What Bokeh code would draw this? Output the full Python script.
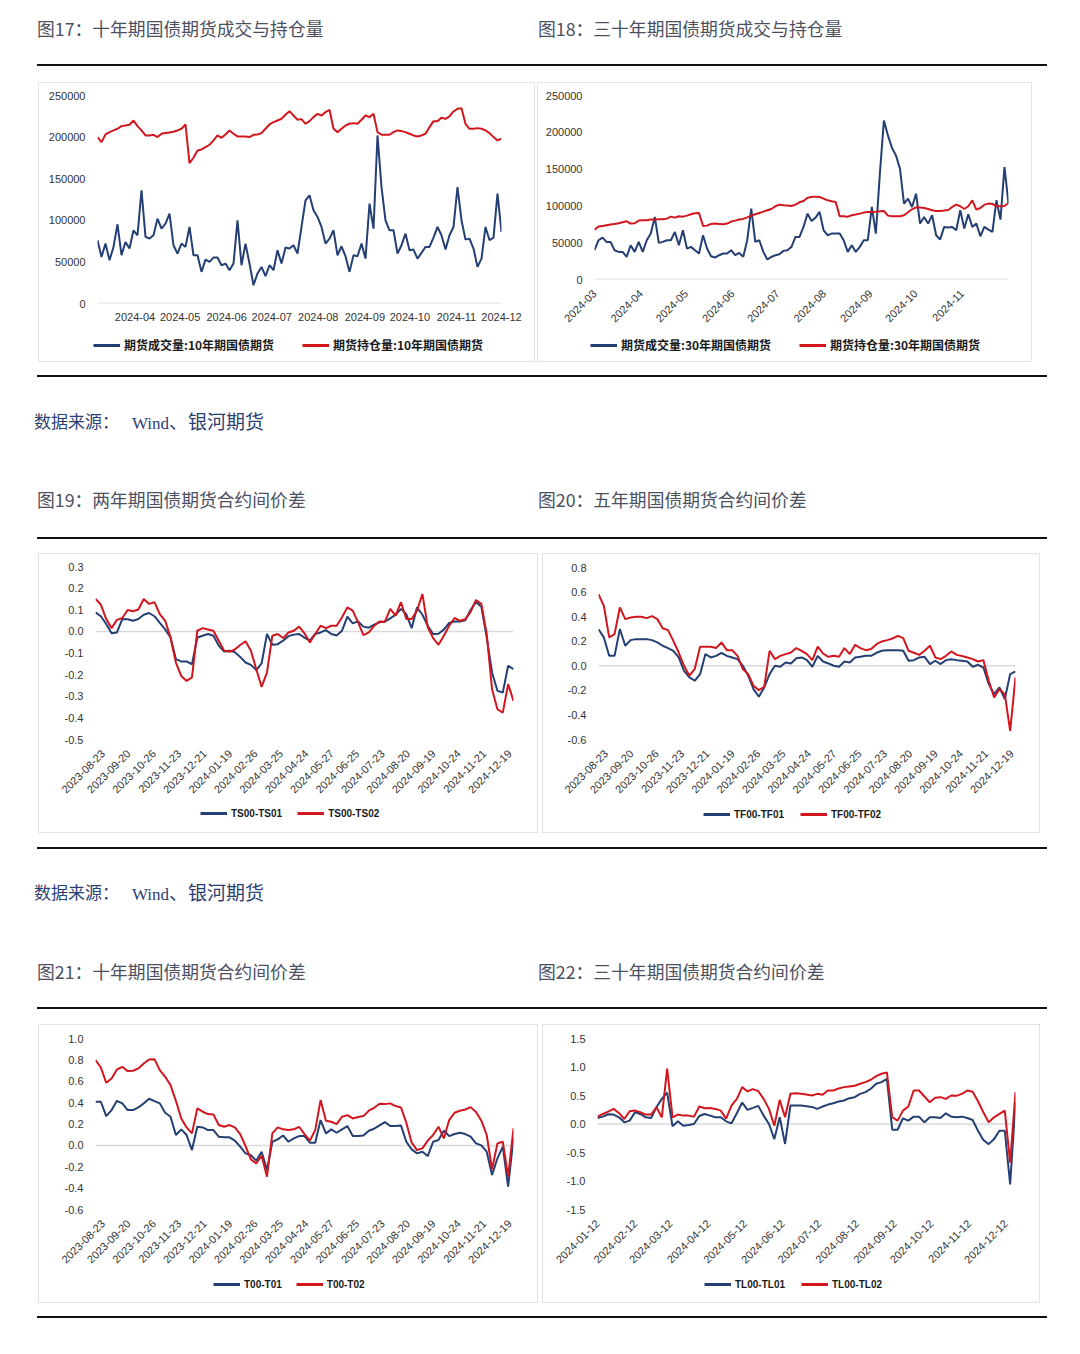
import numpy as np
import pandas as pd
from math import pi
from bokeh.plotting import figure
from bokeh.models import (Range1d, FixedTicker, NumeralTickFormatter, DatetimeTickFormatter,
                          Span, Legend, LegendItem, Div, Spacer)
from bokeh.layouts import column, row
from bokeh.embed import file_html
from bokeh.resources import INLINE

# ---------------- data ----------------
# Fig 17: 10Y futures volume / open interest
vol_10y = [76000, 56000, 72000, 52000, 68000, 95200, 58000, 74000, 66000, 88000,
           82000, 136000, 80000, 78000, 82000, 102000, 90000, 96000, 108000, 70000,
           60000, 72000, 68000, 92000, 58000, 58000, 38000, 52800, 50000, 55200,
           55200, 46000, 48000, 40000, 48000, 100000, 46000, 72000, 48000, 22000,
           36000, 44000, 32800, 46000, 40000, 64000, 48000, 67200, 66000, 70000,
           60000, 92000, 124000, 130000, 112000, 104000, 92000, 72000, 78000, 88000,
           58000, 68800, 56800, 38000, 58000, 56800, 72000, 54000, 120000, 90000,
           202000, 140000, 100000, 88000, 88000, 60000, 70000, 84000, 64000, 64800,
           54000, 60800, 68000, 68000, 79200, 92000, 82000, 64800, 82000, 92000,
           140000, 100000, 76800, 78000, 66000, 44000, 54000, 92000, 76000, 79200,
           132000, 86000]
oi_10y = [200000, 194000, 203200, 206000, 208000, 210000, 213200, 214000, 214800, 220000,
          213200, 208000, 202000, 202000, 202800, 200000, 204000, 204800, 205600, 206400,
          208000, 210000, 215200, 168800, 175200, 184000, 185200, 188000, 190800, 196000,
          202000, 199200, 203200, 208000, 204000, 200800, 200800, 200800, 200000, 202800,
          203200, 204800, 210000, 215200, 218000, 220000, 222000, 226800, 231200, 226000,
          220800, 221600, 216000, 219200, 224000, 228000, 226000, 230000, 232800, 210000,
          206000, 210000, 214000, 216000, 216800, 216000, 220800, 226000, 224000, 228000,
          206000, 202800, 202800, 202800, 206000, 208000, 207200, 206000, 204000, 202000,
          200800, 202000, 204000, 212000, 219200, 219200, 223200, 222000, 224800, 230800,
          234000, 234800, 216000, 210000, 210000, 210800, 210000, 208000, 204800, 200000,
          196000, 198000]
dates_10y = pd.date_range("2024-03-07", "2024-12-01", periods=len(vol_10y))
ticks_10y = ["2024-04", "2024-05", "2024-06", "2024-07", "2024-08", "2024-09",
             "2024-10", "2024-11", "2024-12"]

# Fig 18: 30Y futures volume / open interest
vol_30y = [39800, 53350, 56960, 51090, 51090, 39800, 37520, 37520, 30740, 46560,
           37520, 51090, 37520, 53350, 62390, 85000, 49730, 51090, 53350, 53350,
           64650, 46560, 66910, 42050, 44310, 39800, 35260, 60130, 42050, 31650,
           29840, 33000, 35260, 35260, 39800, 33000, 36170, 30740, 53350, 96300,
           51090, 53350, 37520, 27130, 30740, 33000, 34360, 38880, 39800, 44310,
           57870, 57870, 71430, 89520, 79570, 84090, 91780, 66910, 60130, 62390,
           62390, 62390, 53350, 37520, 46560, 37520, 44310, 53350, 53350, 98560,
           62390, 143800, 216100, 195800, 179000, 168600, 150500, 103100, 109900, 98560,
           116600, 75950, 85000, 75950, 87250, 60130, 54250, 71430, 70530, 71430,
           66910, 94040, 69170, 88610, 71430, 75950, 58770, 71430, 67820, 64650,
           107600, 81380, 152800, 103100]
oi_30y = [67800, 71900, 72800, 73700, 74600, 75500, 76400, 77800, 79100, 76000,
          76400, 80000, 80500, 80500, 81400, 81400, 81800, 81800, 82700, 85400,
          84100, 85900, 85400, 86800, 88600, 90000, 90400, 72800, 73200, 75500,
          76000, 75500, 75000, 76000, 78700, 80000, 81400, 82300, 84500, 86800,
          88600, 90400, 92200, 94000, 95800, 99500, 101700, 100800, 100400, 99900,
          101700, 104900, 106700, 111200, 112100, 112600, 112100, 109900, 107600, 106200,
          105300, 85900, 85900, 85400, 87300, 88200, 89500, 90900, 91800, 91800,
          92200, 92700, 93100, 86800, 85900, 85900, 85900, 87300, 91300, 95400,
          98100, 97700, 97200, 95800, 94000, 93100, 93100, 93600, 94500, 98600,
          101700, 99500, 95800, 99500, 107600, 94900, 97200, 101700, 103100, 102600,
          99900, 99500, 99900, 104000]
dates_30y = pd.date_range("2024-03-01", "2024-12-02", periods=len(vol_30y))
ticks_30y = ["2024-03", "2024-04", "2024-05", "2024-06", "2024-07", "2024-08",
             "2024-09", "2024-10", "2024-11"]

# Figs 19-21: calendar spreads on a trading-day axis (label every 20 trading days)
spread_labels = ["2023-08-23", "2023-09-20", "2023-10-26", "2023-11-23", "2023-12-21",
                 "2024-01-19", "2024-02-26", "2024-03-25", "2024-04-24", "2024-05-27",
                 "2024-06-25", "2024-07-23", "2024-08-20", "2024-09-19", "2024-10-24",
                 "2024-11-21", "2024-12-19"]
spread_days = np.linspace(-6, 323, 79)

ts00_ts01 = [0.088, 0.070, 0.034, -0.009, -0.005, 0.057, 0.056, 0.049, 0.057, 0.077,
             0.085, 0.070, 0.039, 0.009, -0.028, -0.128, -0.139, -0.139, -0.152, -0.028,
             -0.020, -0.012, -0.020, -0.066, -0.093, -0.090, -0.096, -0.118, -0.144, -0.155,
             -0.179, -0.148, -0.012, -0.062, -0.059, -0.043, -0.022, -0.015, -0.012, -0.029,
             -0.043, -0.012, -0.005, 0.006, -0.012, -0.019, 0.003, 0.068, 0.037, 0.046,
             0.022, 0.017, 0.031, 0.042, 0.045, 0.060, 0.077, 0.104, 0.079, 0.015,
             0.111, 0.077, 0.026, -0.012, -0.011, 0.008, 0.039, 0.046, 0.046, 0.051,
             0.100, 0.136, 0.114, -0.028, -0.190, -0.275, -0.283, -0.159, -0.175]
ts00_ts02 = [0.150, 0.124, 0.057, 0.015, 0.053, 0.062, 0.099, 0.093, 0.101, 0.150,
             0.127, 0.135, 0.080, 0.049, -0.028, -0.144, -0.206, -0.229, -0.213, 0.003,
             0.015, 0.009, 0.003, -0.043, -0.090, -0.094, -0.084, -0.063, -0.046, -0.090,
             -0.175, -0.257, -0.190, -0.020, -0.012, -0.031, -0.005, 0.003, 0.022, -0.009,
             -0.051, -0.012, 0.026, 0.015, 0.026, 0.026, 0.065, 0.111, 0.096, 0.042,
             -0.017, -0.005, 0.026, 0.046, 0.045, 0.104, 0.073, 0.135, 0.057, 0.057,
             0.096, 0.173, 0.019, -0.031, -0.062, -0.020, 0.026, 0.062, 0.049, 0.056,
             0.090, 0.145, 0.127, -0.012, -0.268, -0.360, -0.376, -0.244, -0.322]

tf00_tf01 = [0.298, 0.231, 0.081, 0.081, 0.300, 0.163, 0.209, 0.217, 0.217, 0.217,
             0.209, 0.190, 0.163, 0.144, 0.122, 0.068, -0.041, -0.095, -0.122, -0.068,
             0.095, 0.068, 0.081, 0.106, 0.081, 0.068, 0.054, 0.000, -0.081, -0.190,
             -0.252, -0.176, -0.068, 0.000, -0.008, 0.027, 0.019, 0.062, 0.068, 0.046,
             -0.008, 0.081, 0.035, 0.019, 0.000, -0.008, 0.035, 0.027, 0.068, 0.073,
             0.081, 0.081, 0.106, 0.122, 0.127, 0.127, 0.127, 0.122, 0.041, 0.046,
             0.068, 0.073, 0.014, 0.041, 0.014, 0.046, 0.054, 0.046, 0.041, 0.035,
             -0.008, 0.008, -0.014, -0.149, -0.231, -0.176, -0.271, -0.068, -0.046]
tf00_tf02 = [0.583, 0.488, 0.231, 0.258, 0.475, 0.380, 0.393, 0.399, 0.399, 0.388,
             0.404, 0.380, 0.306, 0.290, 0.203, 0.108, 0.000, -0.081, -0.027, 0.155,
             0.155, 0.155, 0.144, 0.190, 0.127, 0.127, 0.081, -0.027, -0.068, -0.163,
             -0.198, -0.171, 0.122, 0.054, 0.081, 0.095, 0.108, 0.144, 0.122, 0.095,
             0.046, 0.155, 0.100, 0.073, 0.081, 0.073, 0.144, 0.095, 0.171, 0.144,
             0.127, 0.136, 0.176, 0.198, 0.209, 0.222, 0.244, 0.225, 0.122, 0.106,
             0.089, 0.122, 0.163, 0.068, 0.054, 0.081, 0.117, 0.089, 0.079, 0.068,
             0.054, 0.035, 0.046, -0.122, -0.258, -0.190, -0.231, -0.530, -0.095]

t00_t01 = [0.408, 0.408, 0.274, 0.330, 0.417, 0.393, 0.330, 0.330, 0.355, 0.393,
           0.436, 0.414, 0.393, 0.305, 0.268, 0.097, 0.150, 0.097, -0.044, 0.174,
           0.168, 0.143, 0.143, 0.081, 0.075, 0.075, 0.044, -0.012, -0.075, -0.093,
           -0.143, -0.059, -0.230, 0.034, 0.056, 0.093, 0.034, 0.065, 0.087, 0.087,
           0.025, 0.025, 0.237, 0.112, 0.150, 0.118, 0.150, 0.181, 0.087, 0.087,
           0.093, 0.137, 0.156, 0.187, 0.218, 0.181, 0.181, 0.187, 0.034, -0.037,
           -0.075, -0.059, -0.100, 0.034, 0.050, 0.137, 0.087, 0.106, 0.118, 0.106,
           0.081, 0.019, 0.000, -0.059, -0.277, -0.121, -0.012, -0.386, 0.072]
t00_t02 = [0.798, 0.729, 0.586, 0.626, 0.710, 0.735, 0.695, 0.698, 0.720, 0.766,
           0.804, 0.807, 0.704, 0.642, 0.564, 0.417, 0.252, 0.168, 0.112, 0.346,
           0.315, 0.293, 0.290, 0.190, 0.174, 0.190, 0.168, 0.106, -0.006, -0.131,
           -0.168, -0.097, -0.293, 0.112, 0.168, 0.150, 0.143, 0.150, 0.174, 0.106,
           0.044, 0.143, 0.424, 0.231, 0.221, 0.199, 0.268, 0.283, 0.252, 0.265,
           0.274, 0.324, 0.352, 0.389, 0.386, 0.393, 0.368, 0.355, 0.212, 0.025,
           -0.044, -0.028, 0.044, 0.097, 0.174, 0.065, 0.237, 0.305, 0.324, 0.336,
           0.358, 0.312, 0.231, 0.097, -0.224, 0.019, 0.034, -0.293, 0.159]

# Fig 22: 30Y calendar spreads on a date axis
tl_dates = pd.date_range("2024-01-12", "2024-12-20", periods=79)
tl_labels = ["2024-01-12", "2024-02-12", "2024-03-12", "2024-04-12", "2024-05-12",
             "2024-06-12", "2024-07-12", "2024-08-12", "2024-09-12", "2024-10-12",
             "2024-11-12", "2024-12-12"]
tl00_tl01 = [0.106, 0.129, 0.171, 0.165, 0.118, 0.029, 0.059, 0.206, 0.176, 0.118,
             0.106, 0.294, 0.441, 0.550, -0.041, 0.047, -0.029, -0.018, 0.000, 0.141,
             0.176, 0.147, 0.118, 0.118, 0.047, 0.012, 0.188, 0.376, 0.247, 0.282,
             0.318, 0.147, 0.000, -0.265, 0.118, -0.350, 0.324, 0.324, 0.324, 0.312,
             0.300, 0.265, 0.306, 0.341, 0.365, 0.394, 0.412, 0.453, 0.471, 0.529,
             0.559, 0.618, 0.706, 0.735, 0.794, -0.100, -0.100, 0.100, 0.059, 0.129,
             0.129, 0.029, 0.118, 0.118, 0.106, 0.188, 0.129, 0.118, 0.129, 0.106,
             0.071, -0.118, -0.282, -0.353, -0.265, -0.118, -0.118, -1.060, 0.382]
tl00_tl02 = [0.129, 0.176, 0.218, 0.265, 0.194, 0.088, 0.224, 0.235, 0.206, 0.165,
             0.165, 0.294, 0.118, 0.970, 0.118, 0.165, 0.147, 0.147, 0.129, 0.306,
             0.276, 0.282, 0.265, 0.235, 0.094, 0.324, 0.441, 0.647, 0.571, 0.612,
             0.576, 0.441, 0.265, -0.030, 0.424, 0.118, 0.529, 0.541, 0.529, 0.518,
             0.500, 0.529, 0.512, 0.588, 0.588, 0.624, 0.647, 0.659, 0.671, 0.706,
             0.735, 0.776, 0.841, 0.882, 0.906, 0.118, 0.059, 0.235, 0.306, 0.588,
             0.588, 0.482, 0.382, 0.459, 0.471, 0.441, 0.500, 0.494, 0.529, 0.588,
             0.565, 0.400, 0.206, 0.029, 0.118, 0.176, 0.235, -0.676, 0.559]

# ---------------- styling ----------------
BLUE = "#243f73"
RED = "#d2161e"
AXIS_FONT = "Liberation Sans"
CJK = "Noto Sans CJK SC"
OFF = 8  # page margin
BORDER = "1px solid #e4e4e4"
LEG_H = 30


def no_align(p):
    if "frame_align" in p.properties():
        p.frame_align = False


def base_fig(w, h, bl, br, bt, bb, xr, yr, x_type="linear"):
    p = figure(width=w, height=h, x_range=xr, y_range=yr, x_axis_type=x_type,
               output_backend="svg", toolbar_location=None,
               min_border_left=bl, min_border_right=br, min_border_top=bt,
               min_border_bottom=bb, margin=(0, 0, 0, 0),
               styles={"border-top": BORDER, "border-left": BORDER, "border-right": BORDER})
    no_align(p)
    p.outline_line_color = None
    p.xgrid.visible = False
    p.ygrid.visible = False
    p.background_fill_color = "white"
    p.border_fill_color = "white"
    for ax in (p.xaxis[0], p.yaxis[0]):
        ax.axis_line_color = None
        ax.major_tick_line_color = None
        ax.minor_tick_line_color = None
        ax.major_tick_out = 0
        ax.major_tick_in = 0
        ax.minor_tick_out = 0
        ax.minor_tick_in = 0
        ax.major_label_text_font = AXIS_FONT
        ax.major_label_text_font_size = "11px"
        ax.major_label_text_color = "#333333"
    p.yaxis.major_label_standoff = 12
    p.xaxis.major_label_standoff = 9
    p.add_layout(Span(location=0, dimension="width", line_color="#d9d9d9",
                      line_width=1.5, level="underlay"))
    return p


def legend_fig(w, names, vx, vy, spacing, font, size):
    # a strip under each chart that only carries the legend (keys are off-range proxies)
    q = figure(width=w, height=LEG_H, x_range=Range1d(0, 1), y_range=Range1d(0, 1),
               x_axis_location=None, y_axis_location=None, output_backend="svg",
               toolbar_location=None, min_border=0, margin=(0, 0, 0, 0),
               styles={"border-bottom": BORDER, "border-left": BORDER, "border-right": BORDER})
    no_align(q)
    q.outline_line_color = None
    q.grid.visible = False
    q.background_fill_color = "white"
    q.border_fill_color = "white"
    ra = q.line(x=[5, 6], y=[5, 5], line_color=BLUE, line_width=3)
    rb = q.line(x=[5, 6], y=[5, 5], line_color=RED, line_width=3)
    leg = Legend(items=[LegendItem(label=names[0], renderers=[ra]),
                        LegendItem(label=names[1], renderers=[rb])],
                 location=(vx, vy), orientation="horizontal", spacing=spacing,
                 padding=0, margin=0, border_line_color=None, background_fill_alpha=0,
                 glyph_width=27, glyph_height=12, label_height=12, label_standoff=4,
                 label_text_font=font, label_text_font_size=size,
                 label_text_font_style="bold", label_text_color="#1a1a1a")
    q.add_layout(leg)
    return q


def date_axis(p, labels, fmt, rotate=False):
    ticks = [pd.Timestamp(t).timestamp() * 1000 for t in labels]
    p.xaxis.ticker = FixedTicker(ticks=ticks)
    p.xaxis.formatter = DatetimeTickFormatter(
        microseconds=fmt, milliseconds=fmt, seconds=fmt, minsec=fmt, minutes=fmt,
        hourmin=fmt, hours=fmt, days=fmt, months=fmt, years=fmt)
    if rotate:
        p.xaxis.major_label_orientation = pi / 4
        p.xaxis.major_label_standoff = 12


def spread_axis(p):
    pos = [20 * k for k in range(len(spread_labels))]
    p.xaxis.ticker = FixedTicker(ticks=pos)
    p.xaxis.major_label_overrides = {v: s for v, s in zip(pos, spread_labels)}
    p.xaxis.major_label_orientation = pi / 4
    p.xaxis.major_label_standoff = 12


# ---- Fig 17 ----
p17 = base_fig(497, 280 - LEG_H, 58, 35, 12, 30,
               Range1d(dates_10y[0], dates_10y[-1]), Range1d(0, 250000), "datetime")
p17.line(dates_10y, vol_10y, line_color=BLUE, line_width=2)
p17.line(dates_10y, oi_10y, line_color=RED, line_width=2)
p17.yaxis.ticker = FixedTicker(ticks=[0, 50000, 100000, 150000, 200000, 250000])
p17.yaxis.formatter = NumeralTickFormatter(format="0")
date_axis(p17, ticks_10y, "%Y-%m")
l17 = legend_fig(497, ["期货成交量:10年期国债期货", "期货持仓量:10年期国债期货"],
                 54, 9, 28, CJK, "12px")

# ---- Fig 18 ----
p18 = base_fig(495, 280 - LEG_H, 56, 25, 12, 54,
               Range1d(dates_30y[0], dates_30y[-1]), Range1d(0, 250000), "datetime")
p18.line(dates_30y, vol_30y, line_color=BLUE, line_width=2)
p18.line(dates_30y, oi_30y, line_color=RED, line_width=2)
p18.yaxis.ticker = FixedTicker(ticks=[0, 50000, 100000, 150000, 200000, 250000])
p18.yaxis.formatter = NumeralTickFormatter(format="0")
date_axis(p18, ticks_30y, "%Y-%m", rotate=True)
l18 = legend_fig(495, ["期货成交量:30年期国债期货", "期货持仓量:30年期国债期货"],
                 52, 9, 28, CJK, "12px")


def spread_fig(w, h, bl, br, bt, bb, ymin, ymax, yticks, blue, red):
    p = base_fig(w, h, bl, br, bt, bb, Range1d(spread_days[0], spread_days[-1]),
                 Range1d(ymin, ymax))
    p.line(spread_days, blue, line_color=BLUE, line_width=2)
    p.line(spread_days, red, line_color=RED, line_width=2)
    p.yaxis.ticker = FixedTicker(ticks=yticks)
    p.yaxis.formatter = NumeralTickFormatter(format="0.0")
    spread_axis(p)
    return p


p19 = spread_fig(500, 280 - LEG_H, 56, 26, 12, 65, -0.5, 0.3,
                 [-0.5, -0.4, -0.3, -0.2, -0.1, 0.0, 0.1, 0.2, 0.3], ts00_ts01, ts00_ts02)
l19 = legend_fig(500, ["TS00-TS01", "TS00-TS02"], 161, 14, 15, AXIS_FONT, "10px")
p20 = spread_fig(498, 280 - LEG_H, 55, 26, 13, 65, -0.6, 0.8,
                 [-0.6, -0.4, -0.2, 0.0, 0.2, 0.4, 0.6, 0.8], tf00_tf01, tf00_tf02)
l20 = legend_fig(498, ["TF00-TF01", "TF00-TF02"], 160, 13, 16, AXIS_FONT, "10px")
p21 = spread_fig(500, 279 - LEG_H, 56, 26, 13, 65, -0.6, 1.0,
                 [-0.6, -0.4, -0.2, 0.0, 0.2, 0.4, 0.6, 0.8, 1.0], t00_t01, t00_t02)
l21 = legend_fig(500, ["T00-T01", "T00-T02"], 174, 13, 14, AXIS_FONT, "10px")

# ---- Fig 22 ----
p22 = base_fig(498, 279 - LEG_H, 54, 26, 13, 65,
               Range1d(tl_dates[0], tl_dates[-1]), Range1d(-1.5, 1.5), "datetime")
p22.line(tl_dates, tl00_tl01, line_color=BLUE, line_width=2)
p22.line(tl_dates, tl00_tl02, line_color=RED, line_width=2)
p22.yaxis.ticker = FixedTicker(ticks=[-1.5, -1.0, -0.5, 0.0, 0.5, 1.0, 1.5])
p22.yaxis.formatter = NumeralTickFormatter(format="0.0")
date_axis(p22, tl_labels, "%Y-%m-%d", rotate=True)
l22 = legend_fig(498, ["TL00-TL01", "TL00-TL02"], 161, 13, 16, AXIS_FONT, "10px")

# ---------------- page texts ----------------
TITLE = ("position:absolute;top:{top}px;left:{left}px;font-family:'Noto Sans CJK SC';"
         "font-size:17.8px;line-height:20px;color:#4b5161;white-space:nowrap;")
SRC = ("position:absolute;top:{top}px;left:{left}px;font-family:'Liberation Serif','Noto Sans CJK SC';"
       "font-size:17px;line-height:20px;color:#2b3f73;white-space:nowrap;")


def rule(top):
    return (f'<div style="position:absolute;left:{29 + OFF}px;top:{top}px;width:1010px;'
            f'height:2px;background:#111;"></div>')


def title(top, left, text):
    return f'<div style="{TITLE.format(top=top, left=left + OFF)}">{text}</div>'


def source(top):
    return (f'<div style="{SRC.format(top=top, left=26 + OFF)}">数据来源：</div>'
            f'<div style="{SRC.format(top=top, left=124 + OFF)}">Wind'
            f'<span style="font-size:19px;">、银河期货</span></div>')


def text_div(h, parts):
    w = 1064 + OFF
    html = f'<div style="position:relative;width:{w}px;height:{h}px;">{"".join(parts)}</div>'
    return Div(text=html, width=w, height=h, margin=(0, 0, 0, 0))


d_top = text_div(74 + OFF, [title(10 + OFF, 29, "图17：十年期国债期货成交与持仓量"),
                            title(10 + OFF, 530, "图18：三十年期国债期货成交与持仓量"),
                            rule(56 + OFF)])
d_mid1 = text_div(191, [rule(13), source(51),
                        title(127, 29, "图19：两年期国债期货合约间价差"),
                        title(127, 530, "图20：五年期国债期货合约间价差"),
                        rule(175)])
d_mid2 = text_div(191, [rule(14), source(51),
                        title(128, 29, "图21：十年期国债期货合约间价差"),
                        title(128, 530, "图22：三十年期国债期货合约间价差"),
                        rule(174)])
d_bot = text_div(30, [rule(13)])


def box(p, l):
    return column(p, l, spacing=0)


row1 = row(Spacer(width=30 + OFF, height=280), box(p17, l17), Spacer(width=2, height=280),
           box(p18, l18), spacing=0)
row2 = row(Spacer(width=30 + OFF, height=280), box(p19, l19), Spacer(width=4, height=280),
           box(p20, l20), spacing=0)
row3 = row(Spacer(width=30 + OFF, height=279), box(p21, l21), Spacer(width=4, height=279),
           box(p22, l22), spacing=0)

page = column(d_top, row1, d_mid1, row2, d_mid2, row3, d_bot, spacing=0)

open("out.html", "w").write(file_html(page, INLINE))
